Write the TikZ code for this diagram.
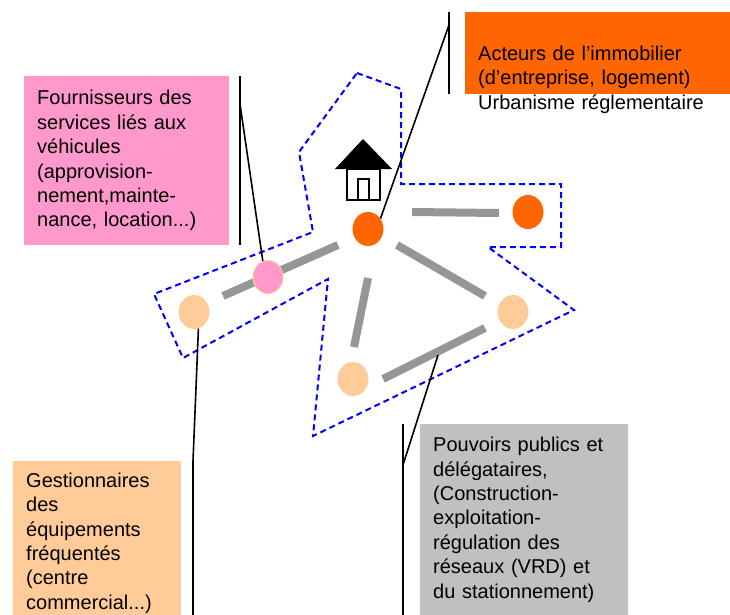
\documentclass[tikz,border=0pt]{standalone}
\usepackage{fontspec}
\setmainfont{Liberation Sans}
\usetikzlibrary{shapes.geometric}
\definecolor{pinkbox}{HTML}{FF99CC}
\definecolor{orangebox}{HTML}{FF6600}
\definecolor{peachbox}{HTML}{FFCC99}
\definecolor{greybox}{HTML}{C0C0C0}
\definecolor{greybar}{HTML}{969696}
\begin{document}
\begin{tikzpicture}[
x=1pt,
y=-1pt,
line join=miter,
actor/.style={ellipse,minimum width=31pt,minimum height=34pt,inner sep=0pt},
infobox/.style={anchor=north west,inner xsep=13pt,inner ysep=0pt,align=left,font=\fontsize{20}{24.4}\selectfont},
bar/.style={line width=8pt,color=greybar},
leader/.style={line width=1.6pt,color=black},
zone/.style={line width=2pt,color=blue,dash pattern=on 6pt off 4pt},
]
\useasboundingbox (0,0) rectangle (730,615);
% zone
\draw[zone] (357,73) -- (401,89) -- (401,184) -- (561,184) -- (561,247) -- (488,247)
  -- (574,310) -- (313,436) -- (328,279) -- (183,358) -- (154,294) -- (313,232)
  -- (299,152) -- cycle;
% bars
\draw[bar] (412,212) -- (499,213);
\draw[bar] (397,245) -- (485,296);
\draw[bar] (485,328) -- (383,379);
\draw[bar] (368,278) -- (354,347);
\draw[bar] (338,245) -- (223,296);
% house
\fill (363,139) -- (392,169) -- (335,169) -- cycle;
\draw[leader] (347,169) rectangle (380,200);
\draw[leader] (358,179) rectangle (369,200);
% nodes
\node[actor,fill=orangebox] (hub) at (368,229) {};
\node[actor,fill=orangebox] (east) at (528,212) {};
\node[actor,fill=peachbox] (south) at (513,312) {};
\node[actor,fill=peachbox] (base) at (353,379) {};
\node[actor,fill=peachbox] (west) at (194,312) {};
\node[actor,fill=pinkbox,draw=peachbox,line width=1pt,minimum width=30pt,minimum height=33pt] (shop) at (268,277) {};
% boxes
\node[infobox,fill=pinkbox,text width=179pt,minimum height=169pt] (services) at (24,76)
  {Fournisseurs des\\services liés aux\\véhicules\\(approvision-\\nement,mainte-\\nance, location...)};
\node[infobox,fill=orangebox,text width=239pt,minimum height=82pt,text depth=0pt] (immo) at (465,12)
  {Acteurs de l’immobilier\\(d’entreprise, logement)\\Urbanisme réglementaire};
\node[infobox,fill=peachbox,text width=142pt,minimum height=164pt] (equip) at (13,461)
  {Gestionnaires\\des\\équipements\\fréquentés\\(centre\\commercial...)};
\node[infobox,fill=greybox,text width=182pt,minimum height=191pt] (public) at (420,424)
  {Pouvoirs publics et\\délégataires,\\(Construction-\\exploitation-\\régulation des\\réseaux (VRD) et\\du stationnement)};
% leaders
\coordinate (servtop) at (240,76);
\coordinate (servbot) at (240,245);
\coordinate (servknee) at (240,104);
\coordinate (immotop) at (449,12);
\coordinate (immobot) at (449,94);
\coordinate (immoknee) at (449,25);
\coordinate (equiptop) at (193,461);
\coordinate (equipbot) at (193,615);
\coordinate (pubtop) at (403,424);
\coordinate (pubbot) at (403,615);
\coordinate (pubknee) at (403,465);
\coordinate (pubend) at (438,355);
\draw[leader] (servtop) -- (servbot);
\draw[leader] (servknee) -- (shop.108);
\draw[leader] (immotop) -- (immobot);
\draw[leader] (immoknee) -- (hub.40);
\draw[leader] (equiptop) -- (equipbot);
\draw[leader] (west.-75) -- (equiptop);
\draw[leader] (pubtop) -- (pubbot);
\draw[leader] (pubknee) -- (pubend);
\end{tikzpicture}
\end{document}
